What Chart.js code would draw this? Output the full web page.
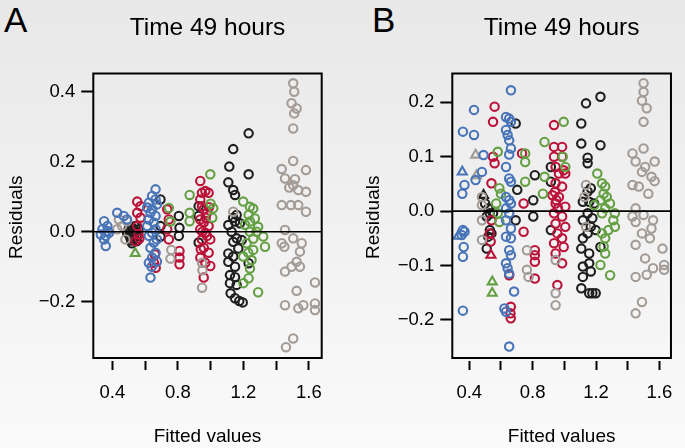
<!DOCTYPE html>
<html>
<head>
<meta charset="utf-8">
<script src="https://cdn.jsdelivr.net/npm/chart.js@4.4.1/dist/chart.umd.min.js"></script>
<style>
  body { margin: 0; width: 685px; height: 448px; overflow: hidden; position: relative;
         background: linear-gradient(#e8e8e8, #fafafa); font-family: "Liberation Sans", Arial, sans-serif; }
  canvas { position: absolute; top: 0; }
  .tag { position: absolute; top: 2px; font-size: 35px; line-height: 35px; color: #000; }
</style>
</head>
<body>
<div class="tag" style="left:4px">A</div>
<div class="tag" style="left:372px">B</div>
<canvas id="chartA" width="342" height="448" style="left:0"></canvas>
<canvas id="chartB" width="343" height="448" style="left:342px"></canvas>
<script>
// ---- panel A data (fitted value, residual) ----
var aBlueX = [0.35,0.37,0.34,0.37,0.33,0.36,0.38,0.35,0.36, 0.43,0.49,0.47,
  0.664,0.643,0.664,0.623,0.672,0.613,0.643,0.633,0.664,0.623,0.653,0.613,0.664,0.643,0.623,0.672,0.653,0.633,0.664,0.643,0.623,0.672,0.633,0.64];
var aBlueY = [0.030,0.016,0.007,0.002,-0.008,-0.012,-0.003,-0.022,-0.041, 0.054,0.035,0.045,
  0.121,0.102,0.092,0.083,0.078,0.069,0.064,0.054,0.045,0.035,0.026,0.016,0.007,-0.003,-0.012,-0.022,-0.031,-0.046,-0.060,-0.074,-0.089,-0.085,-0.131,-0.100];

var aRedX = [0.552,0.572,0.552,0.572,0.552,0.56,0.542,0.565, 0.66,0.655,0.665, 0.735,0.745,0.735,0.745, 0.81,0.81,0.81,
  0.937,0.947,0.937,0.968,0.988,0.947,0.958,0.978,0.937,0.958,0.988,0.937,0.968,0.978,0.947,0.998,0.958,0.988,0.937,0.968,0.998,0.958,0.95,0.97,0.99,0.94];
var aRedY = [0.086,0.073,0.054,0.040,0.016,-0.008,-0.027,-0.020, -0.065,-0.089,-0.103, 0.064,0.035,0.007,-0.022, -0.055,-0.074,-0.093,
  0.145,0.111,0.092,0.116,0.111,0.073,0.064,0.054,0.035,0.026,0.016,0.007,-0.003,-0.012,-0.022,-0.022,-0.046,-0.060,-0.074,-0.089,-0.098,-0.131,0.000,0.040,0.070,-0.050];

var aGreenX = [0.745,0.755, 0.872,0.872,0.872, 0.998,1.0,1.01,1.016,
  1.199,1.24,1.26,1.232,1.27,1.24,1.29,1.321,1.24,1.332,1.22,1.26,1.199,1.25,1.24,1.232,1.2,1.29,1.28,1.21,1.26,1.23];
var aGreenY = [0.068,0.029, 0.105,0.054,0.030, 0.164,0.080,0.040,0.067,
  0.086,0.071,0.066,0.048,0.038,0.029,0.014,-0.014,0.000,-0.043,-0.033,-0.052,-0.071,-0.081,-0.105,-0.133,-0.147,-0.173,0.000,0.020,-0.020,-0.060];
var aGreenTriX = [0.54];
var aGreenTriY = [-0.062];

var aBlackX = [0.50,0.52,0.54,0.55,0.51,0.53,0.49,0.56,0.52,0.54,0.51,0.55,0.525,0.535,0.505,0.545,0.515,0.53,
  0.694,0.694,0.694, 0.806,0.81,0.806, 0.927,0.927,0.927,
  1.232,1.138,1.114,1.232,1.108,1.138,1.149,1.159,1.138,1.108,1.149,1.179,1.128,1.159,1.19,1.138,1.169,1.108,1.138,1.232,1.108,1.149,1.118,1.149,1.118,1.159,1.122,1.149,1.175,1.196];
var aBlackY = [0.007,0.012,-0.003,-0.012,-0.017,-0.022,-0.003,0.007,-0.033,0.016,0.002,-0.027,-0.008,0.004,-0.010,0.000,-0.025,-0.015,
  0.092,0.016,-0.014, 0.045,0.011,-0.012, 0.073,0.045,-0.031,
  0.281,0.236,0.186,0.164,0.141,0.119,0.105,0.048,0.040,0.019,0.029,0.024,0.000,-0.019,-0.024,-0.029,-0.048,-0.062,-0.071,-0.090,-0.086,-0.100,-0.124,-0.130,-0.147,-0.152,-0.176,-0.190,-0.198,-0.202];
var aBlackTriX = [0.52];
var aBlackTriY = [0.005];

var aGrayX = [0.44,0.46,0.48,0.43,0.49, 0.76,0.755, 0.948,0.948,0.95, 1.138,
  1.504,1.51,1.494,1.525,1.51,1.504,1.504,1.434,1.582,1.454,1.515,1.504,1.48,1.535,1.582,1.434,1.49,1.535,1.582,1.454,1.504,1.434,1.45,1.556,1.545,1.525,1.494,1.545,1.454,1.525,1.637,1.454,1.535,1.566,1.637,1.637,1.504,1.46];
var aGrayY = [0.035,0.016,-0.022,0.007,0.030, -0.052,-0.077, -0.089,-0.160,-0.110, 0.057,
  0.424,0.400,0.367,0.352,0.338,0.295,0.202,0.179,0.176,0.152,0.150,0.133,0.126,0.119,0.114,0.076,0.076,0.076,0.057,0.005,-0.019,-0.033,-0.043,-0.033,-0.057,-0.086,-0.100,-0.100,-0.114,-0.169,-0.145,-0.210,-0.219,-0.210,-0.205,-0.224,-0.305,-0.330];

// ---- panel B data ----
var bBlueX = [0.36,0.43,0.43,0.37,0.356,0.36,0.37,0.352,0.365,0.36,0.36,0.49,0.48,0.44,
  0.663,0.632,0.652,0.663,0.632,0.642,0.652,0.663,0.652,0.632,0.652,0.663,0.632,0.652,0.663,0.632,0.652,0.632,0.663,0.632,0.663,0.652,0.663,0.632,0.642,0.652,0.622,0.632,0.652,0.683];
var bBlueY = [0.146,0.186,0.140,0.048,0.032,-0.035,-0.038,-0.044,-0.066,-0.084,-0.183,0.103,0.072,0.057,
  0.222,0.173,0.170,0.164,0.149,0.140,0.130,0.115,0.104,0.081,0.060,0.054,0.026,0.020,0.014,0.005,-0.004,-0.017,-0.032,-0.047,-0.050,-0.072,-0.081,-0.096,-0.105,-0.115,-0.179,-0.185,-0.249,-0.148];
var bBlueTriX = [0.356,0.33];
var bBlueTriY = [0.072,-0.046];

var bRedX = [0.56,0.55,0.55,0.56,0.54,0.54,0.53,0.535, 0.652,0.662,0.662,0.66, 0.733,0.743,0.743, 0.814,0.814,0.814,0.814,
  0.935,0.935,0.986,0.935,0.986,0.945,0.996,0.966,1.006,0.945,0.986,0.925,0.966,0.945,1.006,0.935,0.986,0.945,1.006,0.956,0.986,0.935,0.996,0.945,0.986,0.956,0.95,0.96,0.94];
var bRedY = [0.192,0.164,0.100,0.088,0.051,-0.017,-0.041,-0.056, -0.118,-0.176,-0.197,-0.188, 0.106,0.014,-0.038, -0.072,-0.081,-0.093,-0.124,
  0.158,0.118,0.118,0.100,0.100,0.081,0.075,0.069,0.069,0.051,0.045,0.029,0.026,0.014,0.008,-0.004,-0.010,-0.023,-0.029,-0.041,-0.050,-0.059,-0.066,-0.078,-0.096,-0.136,0.020,0.005,0.035];
var bRedTriX = [0.537];
var bRedTriY = [-0.081];

var bGreenX = [0.58,0.59,0.60,0.57,0.58,0.59, 0.753,0.753,0.753, 0.875,0.865,0.875, 0.996,1.006,0.99,
  1.208,1.238,1.258,1.248,1.228,1.268,1.288,1.258,1.238,1.319,1.309,1.319,1.278,1.238,1.258,1.248,1.258,1.228,1.289,1.188];
var bGreenY = [0.109,0.042,0.032,0.014,-0.004,-0.020, 0.106,0.090,0.054, 0.127,0.032,0.063, 0.164,0.081,0.100,
  0.069,0.051,0.045,0.032,0.020,0.026,0.014,0.005,-0.004,-0.004,-0.017,-0.029,-0.035,-0.041,-0.050,-0.065,-0.078,-0.099,-0.118,0.011];
var bGreenTriX = [0.545,0.545];
var bGreenTriY = [-0.130,-0.151];

var bBlackX = [0.50,0.52,0.53,0.51,0.55,0.53,0.52,0.51,0.54, 0.693,0.703,0.693, 0.814,0.804,0.804, 0.915,0.915,0.915,
  1.107,1.137,1.228,1.107,1.228,1.147,1.147,1.167,1.147,1.117,1.157,1.188,1.147,1.177,1.117,1.167,1.198,1.147,1.228,1.117,1.107,1.157,1.117,1.157,1.117,1.167,1.107,1.157,1.177,1.198];
var bBlackY = [0.014,0.005,-0.004,-0.010,-0.004,-0.035,-0.047,-0.069,-0.041, 0.161,0.039,-0.017, 0.066,0.020,-0.010, 0.081,0.054,-0.035,
  0.161,0.198,0.210,0.124,0.121,0.098,0.088,0.042,0.036,0.017,0.017,0.014,-0.004,-0.013,-0.017,-0.029,-0.035,-0.041,-0.066,-0.050,-0.069,-0.078,-0.102,-0.096,-0.121,-0.111,-0.142,-0.151,-0.151,-0.151];
var bBlackTriX = [0.49];
var bBlackTriY = [0.029];

var bGrayX = [0.48,0.48,0.48,0.48, 0.764,0.764,0.774, 0.945,0.945,0.945, 1.137,1.127,1.137,
  1.50,1.50,1.49,1.52,1.50,1.43,1.50,1.45,1.57,1.51,1.49,1.55,1.43,1.47,1.53,1.45,1.43,1.50,1.45,1.56,1.55,1.49,1.54,1.45,1.62,1.51,1.63,1.63,1.56,1.52,1.45,1.49,1.45,1.57];
var bGrayY = [0.026,0.011,-0.017,-0.053, -0.072,-0.108,-0.121, -0.090,-0.151,-0.173, 0.048,0.026,-0.029,
  0.235,0.219,0.203,0.189,0.164,0.106,0.115,0.091,0.091,0.081,0.072,0.063,0.048,0.045,0.032,0.005,-0.010,-0.007,-0.020,-0.017,-0.032,-0.041,-0.050,-0.062,-0.069,-0.087,-0.099,-0.108,-0.105,-0.117,-0.121,-0.167,-0.188,0.055];
var bGrayTriX = [0.44,0.445];
var bGrayTriY = [0.103,0.065];

// ---- axes ----
var xTicks = [0.4, 0.6, 0.8, 1.0, 1.2, 1.4, 1.6];
var xTickLabels = ['0.4', '', '0.8', '', '1.2', '', '1.6'];
var yTicksA = [-0.2, 0.0, 0.2, 0.4];
var yTickLabelsA = ['\u22120.2', '0.0', '0.2', '0.4'];
var yTicksB = [-0.2, -0.1, 0.0, 0.1, 0.2];
var yTickLabelsB = ['\u22120.2', '\u22120.1', '0.0', '0.1', '0.2'];

var BLUE = '#4874b8', RED = '#bb1239', GREEN = '#64a043', BLACK = '#1e1e1e', GRAY = '#a39b95';

function pts(xs, ys) {
  return xs.map(function (x, i) { return { x: x, y: ys[i] }; });
}

function series(xs, ys, color, tri) {
  return {
    data: pts(xs, ys),
    borderColor: color,
    backgroundColor: 'rgba(0,0,0,0)',
    pointStyle: tri ? 'triangle' : 'circle',
    pointRadius: tri ? 5.2 : 4.2,
    pointBorderWidth: 2.1
  };
}

// box round the plot and the zero line
var frame = {
  id: 'frame',
  afterDatasetsDraw: function (chart) {
    var ctx = chart.ctx, a = chart.chartArea;
    var y0 = chart.scales.y.getPixelForValue(0);
    ctx.save();
    ctx.strokeStyle = '#000';
    ctx.lineWidth = 2;
    ctx.strokeRect(a.left, a.top, a.right - a.left, a.bottom - 3 - a.top);
    ctx.lineWidth = 1.6;
    ctx.beginPath();
    ctx.moveTo(a.left, y0);
    ctx.lineTo(a.right, y0);
    ctx.stroke();
    ctx.restore();
  }
};

function panel(id, datasets, o) {
  return new Chart(id, {
    type: 'scatter',
    data: { datasets: datasets },
    plugins: [frame],
    options: {
      responsive: false,
      animation: false,
      events: [],
      layout: { padding: { left: o.padLeft, right: o.padRight, top: 0, bottom: 0 } },
      plugins: {
        legend: { display: false },
        tooltip: { enabled: false },
        title: {
          display: true,
          text: 'Time 49 hours',
          fullSize: false,
          color: '#000',
          font: { family: 'Liberation Sans', size: 24.5, weight: 'normal' },
          padding: { top: 13.5, bottom: 30.6 }
        }
      },
      scales: {
        x: {
          type: 'linear',
          min: o.xMin, max: o.xMax,
          afterFit: function (s) { s.height = 87; },
          afterBuildTicks: function (s) { s.ticks = xTicks.map(function (v) { return { value: v }; }); },
          border: { display: false },
          grid: { drawOnChartArea: false, tickLength: 9, tickWidth: 2, tickColor: '#000' },
          ticks: {
            autoSkip: false, maxRotation: 0, padding: 12, color: '#000',
            font: { family: 'Liberation Sans', size: 18.5 },
            callback: function (v, i) { return xTickLabels[i]; }
          },
          title: {
            display: true, text: 'Fitted values', color: '#000',
            font: { family: 'Liberation Sans', size: 19 },
            padding: { top: 0, bottom: 0 }
          }
        },
        y: {
          type: 'linear',
          min: o.yMin, max: o.yMax,
          afterFit: function (s) { s.width = o.yWidth; },
          afterBuildTicks: function (s) { s.ticks = o.yTicks.map(function (v) { return { value: v }; }); },
          border: { display: false },
          grid: { drawOnChartArea: false, tickLength: 12, tickWidth: 2, tickColor: '#000' },
          ticks: {
            autoSkip: false, padding: 6, color: '#000',
            font: { family: 'Liberation Sans', size: 18.5 },
            callback: function (v, i) { return o.yLabels[i]; }
          },
          title: {
            display: true, text: 'Residuals', color: '#000',
            font: { family: 'Liberation Sans', size: 19 },
            padding: { top: 5.5, bottom: 0 }
          }
        }
      }
    }
  });
}

panel('chartA', [
  series(aBlueX, aBlueY, BLUE),
  series(aGrayX, aGrayY, GRAY),
  series(aGreenX, aGreenY, GREEN),
  series(aGreenTriX, aGreenTriY, GREEN, true),
  series(aRedX, aRedY, RED),
  series(aBlackX, aBlackY, BLACK),
  series(aBlackTriX, aBlackTriY, BLACK, true)
], { padLeft: 0, padRight: 20.3, yWidth: 93.3, xMin: 0.284, xMax: 1.678,
     yMin: -0.3694, yMax: 0.452, yTicks: yTicksA, yLabels: yTickLabelsA });

panel('chartB', [
  series(bBlueX, bBlueY, BLUE),
  series(bBlueTriX, bBlueTriY, BLUE, true),
  series(bGrayX, bGrayY, GRAY),
  series(bGrayTriX, bGrayTriY, GRAY, true),
  series(bGreenX, bGreenY, GREEN),
  series(bGreenTriX, bGreenTriY, GREEN, true),
  series(bRedX, bRedY, RED),
  series(bRedTriX, bRedTriY, RED, true),
  series(bBlackX, bBlackY, BLACK),
  series(bBlackTriX, bBlackTriY, BLACK, true)
], { padLeft: 14.5, padRight: 5, yWidth: 95.8, xMin: 0.293, xMax: 1.673,
     yMin: -0.2756, yMax: 0.2529, yTicks: yTicksB, yLabels: yTickLabelsB });
</script>
</body>
</html>
